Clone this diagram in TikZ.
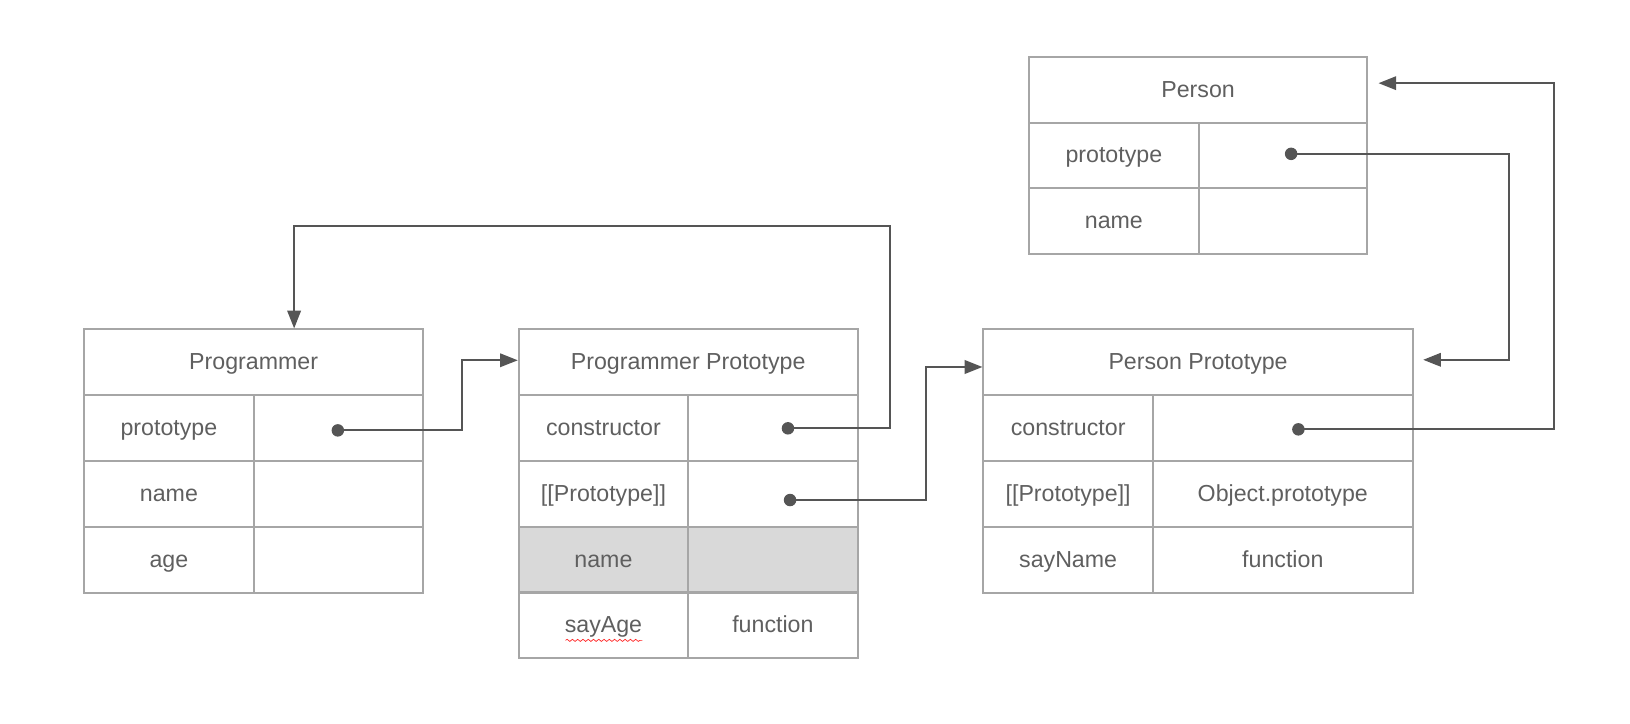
\documentclass[tikz,border=0pt]{standalone}
\usepackage{fontspec}
\setmainfont{Liberation Sans}
\usetikzlibrary{arrows.meta,decorations.pathmorphing}
\definecolor{bordure}{HTML}{A6A6A6}
\definecolor{trait}{HTML}{555555}
\definecolor{texte}{HTML}{5F5F5F}
\definecolor{grise}{HTML}{D9D9D9}
\begin{document}
\begin{tikzpicture}[x=0.020791cm, y=-0.020791cm]
			\tikzset{cellule/.style={draw=bordure, line width=1.15pt, inner sep=0, minimum height=1.315cm, text height=0.86em, text depth=0pt, text=texte, font=\fontsize{13.2}{16}\selectfont},
				cle/.style={cellule, minimum width=3.389cm},
				titre/.style={cellule, minimum width=6.778cm},
				large/.style={cellule, minimum width=5.198cm},
				grand/.style={cellule, minimum width=8.587cm},
				point/.style={circle, fill=trait, inner sep=0, minimum size=0.25cm},
				fleche/.style={>={Triangle[length=3.55mm, width=2.7mm]}, ->, draw=trait, line width=1.15pt}};
			\useasboundingbox (0,0) rectangle (1568,696.4);

			\node[titre] (prg)   at ( 244, 348.5) {Programmer};
			\node[cle]   (prgk1) at ( 162.5, 411.5) {prototype};
			\node[cle]   (prgv1) at ( 325.5, 411.5) {};
			\node[cle]   (prgk2) at ( 162.5, 475) {name};
			\node[cle]   (prgv2) at ( 325.5, 475) {};
			\node[cle]   (prgk3) at ( 162.5, 538.5) {age};
			\node[cle]   (prgv3) at ( 325.5, 538.5) {};

			\node[titre] (pp)   at ( 662, 348.5) {Programmer Prototype};
			\node[cle]   (ppk1) at ( 580.5, 411.5) {constructor};
			\node[cle]   (ppv1) at ( 743.5, 411.5) {};
			\node[cle]   (ppk2) at ( 580.5, 475) {[[Prototype]]};
			\node[cle]   (ppv2) at ( 743.5, 475) {};
			\node[cle, fill=grise] (ppk3) at ( 580.5, 538.5) {name};
			\node[cle, fill=grise] (ppv3) at ( 743.5, 538.5) {};
			\node[cle]   (ppk4) at ( 580.5, 601.5) {sayAge};
			\node[cle]   (ppv4) at ( 743.5, 601.5) {function};

			\node[grand] (psp)   at (1152.5, 348.5) {Person Prototype};
			\node[cle]   (pspk1) at (1027.5, 411.5) {constructor};
			\node[large] (pspv1) at (1234, 411.5) {};
			\node[cle]   (pspk2) at (1027.5, 475) {[[Prototype]]};
			\node[large] (pspv2) at (1234, 475) {Object.prototype};
			\node[cle]   (pspk3) at (1027.5, 538.5) {sayName};
			\node[large] (pspv3) at (1234, 538.5) {function};

			\node[titre, minimum width=6.757cm] (ps)   at (1152.5, 86.5) {Person};
			\node[cle]                          (psk1) at (1071.5, 149.5) {prototype};
			\node[cle, minimum width=3.368cm]   (psv1) at (1234, 149.5) {};
			\node[cle]                          (psk2) at (1071.5, 212.5) {name};
			\node[cle, minimum width=3.368cm]   (psv2) at (1234, 212.5) {};

			% soulignement du correcteur
			\draw[red!85, line width=0.4pt, decorate, decoration={snake, amplitude=0.6pt, segment length=3pt}] (544,616) -- (618,616);

			\node[point] (d1) at ( 325, 414) {};
			\node[point] (d2) at ( 758, 412) {};
			\node[point] (d3) at ( 760, 481) {};
			\node[point] (d4) at (1242, 148) {};
			\node[point] (d5) at (1249, 413) {};

			\draw[fleche] (d1.center) -- ( 444, 414) |- ([yshift=0.04cm]pp.west);
			\draw[fleche] (d2.center) -- ( 856, 412) -- (856, 217) -| ([xshift=0.81cm]prg.north);
			\draw[fleche] (d3.center) -- ( 891, 481) |- ([yshift=-0.094cm]psp.west);
			\draw[fleche, shorten >=0.19cm] (d4.center) -- (1452, 148) |- ([yshift=0.05cm]psp.east);
			\draw[fleche, shorten >=0.21cm] (d5.center) -- (1495, 413) |- ([yshift=0.135cm]ps.east);

		\end{tikzpicture}
\end{document}
